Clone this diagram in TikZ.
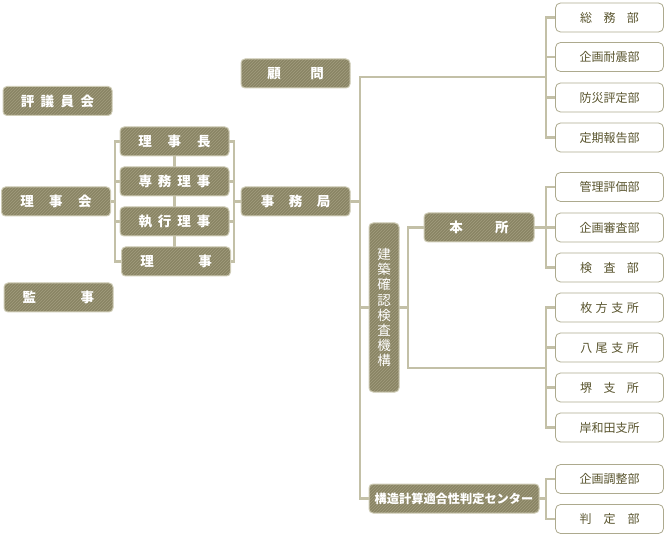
\documentclass[tikz,border=0pt]{standalone}
\usepackage{fontspec}
\setmainfont{Noto Sans CJK JP}
\usetikzlibrary{patterns}
\definecolor{boxfill}{HTML}{8A8564}
\definecolor{hatch}{HTML}{A29D7E}
\definecolor{boxline}{HTML}{CFCCB6}
\definecolor{connc}{HTML}{C3C0A7}
\definecolor{wline}{HTML}{ADAA8E}
\definecolor{wtext}{HTML}{5A552F}
\pgfdeclarelayer{bg}
\pgfsetlayers{bg,main}
\begin{document}
\begin{tikzpicture}[x=1pt,y=-1pt,
 dark/.style={rounded corners=4pt, draw=boxline, line width=1pt,
   preaction={fill=boxfill}, pattern=north east lines, pattern color=hatch,
   text=white, font=\fontsize{13.5}{15}\selectfont\bfseries, inner sep=0pt,
   minimum width=109pt, minimum height=29pt},
 light/.style={rounded corners=5pt, draw=wline, line width=0.8pt, fill=white,
   text=wtext, font=\fontsize{12}{14}\selectfont, inner sep=0pt,
   minimum width=108pt, minimum height=29pt},
 connl/.style={draw=connc, line width=2.5pt, line cap=rect}
]
\useasboundingbox (0,0) rectangle (664,537);
% left column
\node[dark] (hyogi) at (57.5,101) {評\hspace{6.5pt}議\hspace{6.5pt}員\hspace{6.5pt}会};
\node[dark] (rijikai) at (56,201.5) {理\hspace{15.5pt}事\hspace{15.5pt}会};
\node[dark] (kanji) at (58.5,297.5) {監\hspace{44.5pt}事};
% board column
\node[dark] (rijicho) at (174.5,141.5) {理\hspace{16pt}事\hspace{16pt}長};
\node[dark] (senmu) at (174.5,181.5) {専\hspace{6pt}務\hspace{6pt}理\hspace{6pt}事};
\node[dark] (shikko) at (174.5,221.5) {執\hspace{6pt}行\hspace{6pt}理\hspace{6pt}事};
\node[dark] (riji) at (176,261.5) {理\hspace{44.5pt}事};
% secretariat
\node[dark] (komon) at (295.5,73.5) {顧\hspace{29.5pt}問};
\node[dark] (jimu) at (295.5,201.5) {事\hspace{14.5pt}務\hspace{14.5pt}局};
% organisation
\node[dark, minimum width=30pt, minimum height=169pt, align=center,
  font=\fontsize{13.5}{15.1}\selectfont] (kikou) at (384,307.5)
  {建\\築\\確\\認\\検\\査\\機\\構};
\node[dark, minimum width=110pt] (honsho) at (479,227.5) {本\hspace{32.5pt}所};
\node[dark, minimum width=170pt, font=\fontsize{12.2}{14}\selectfont\bfseries] (center) at (454,498.5) {構造計算適合性判定センター};
% right column
\node[light] (soumu) at (609.5,17.5) {総\hspace{11.5pt}務\hspace{11.5pt}部};
\node[light] (taishin) at (609.5,57) {企画耐震部};
\node[light] (bousai) at (609.5,97.5) {防災評定部};
\node[light] (teiki) at (609.5,137.5) {定期報告部};
\node[light] (kanri) at (609.5,187) {管理評価部};
\node[light] (shinsa) at (609.5,227.5) {企画審査部};
\node[light] (kensa) at (609.5,267.5) {検\hspace{11.5pt}査\hspace{11.5pt}部};
\node[light] (hirakata) at (609.5,307.5) {枚\hspace{3.5pt}方\hspace{3.5pt}支\hspace{3.5pt}所};
\node[light] (yao) at (609.5,347.5) {八\hspace{3.5pt}尾\hspace{3.5pt}支\hspace{3.5pt}所};
\node[light] (sakai) at (609.5,387.5) {堺\hspace{11.5pt}支\hspace{11.5pt}所};
\node[light] (kishiwada) at (609.5,427.5) {岸和田支所};
\node[light] (chousei) at (609.5,479) {企画調整部};
\node[light] (hantei) at (609.5,519) {判\hspace{12pt}定\hspace{12pt}部};
% junction coordinates
\coordinate (lbx) at (115,0);
\coordinate (rbx) at (234,0);
\coordinate (tx) at (360,0);
\coordinate (t1) at (360,77);
\coordinate (sx) at (408,0);
\coordinate (b2) at (408,368);
\coordinate (bx) at (546,0);
\begin{pgfonlayer}{bg}
% left bracket
\draw[connl] (rijikai.east) -- (rijikai.east -| lbx);
\draw[connl] (rijicho.west -| lbx) -- (riji.west -| lbx);
\foreach \n in {rijicho,senmu,shikko,riji} \draw[connl] (\n.west -| lbx) -- (\n.west);
% inner links
\draw[connl] (rijicho.south) -- (senmu.north);
\draw[connl] (senmu.south) -- (shikko.north);
\draw[connl] (shikko.south) -- (shikko.south |- riji.north);
% right bracket
\draw[connl] (rijicho.east -| rbx) -- (riji.east -| rbx);
\foreach \n in {rijicho,senmu,shikko,riji} \draw[connl] (\n.east) -- (\n.east -| rbx);
\draw[connl] (jimu.west -| rbx) -- (jimu.west);
% trunk
\draw[connl] (jimu.east) -- (jimu.east -| tx);
\draw[connl] (t1) -- (center.west -| tx) -- (center.west);
\draw[connl] (t1) -- (t1 -| bx);
\draw[connl] (soumu.west -| bx) -- (teiki.west -| bx);
\foreach \n in {soumu,taishin,bousai,teiki} \draw[connl] (\n.west -| bx) -- (\n.west);
% kikou
\draw[connl] (kikou.west -| tx) -- (kikou.west);
\draw[connl] (kikou.east) -- (kikou.east -| sx);
\draw[connl] (honsho.west) -- (honsho.west -| sx) -- (b2) -- (b2 -| bx);
\draw[connl] (hirakata.west -| bx) -- (kishiwada.west -| bx);
\foreach \n in {hirakata,yao,sakai,kishiwada} \draw[connl] (\n.west -| bx) -- (\n.west);
% honsho
\draw[connl] (honsho.east) -- (honsho.east -| bx);
\draw[connl] (kanri.west -| bx) -- (kensa.west -| bx);
\foreach \n in {kanri,shinsa,kensa} \draw[connl] (\n.west -| bx) -- (\n.west);
% center
\draw[connl] (center.east) -- (center.east -| bx);
\draw[connl] (chousei.west -| bx) -- (hantei.west -| bx);
\foreach \n in {chousei,hantei} \draw[connl] (\n.west -| bx) -- (\n.west);
\end{pgfonlayer}
\end{tikzpicture}
\end{document}
